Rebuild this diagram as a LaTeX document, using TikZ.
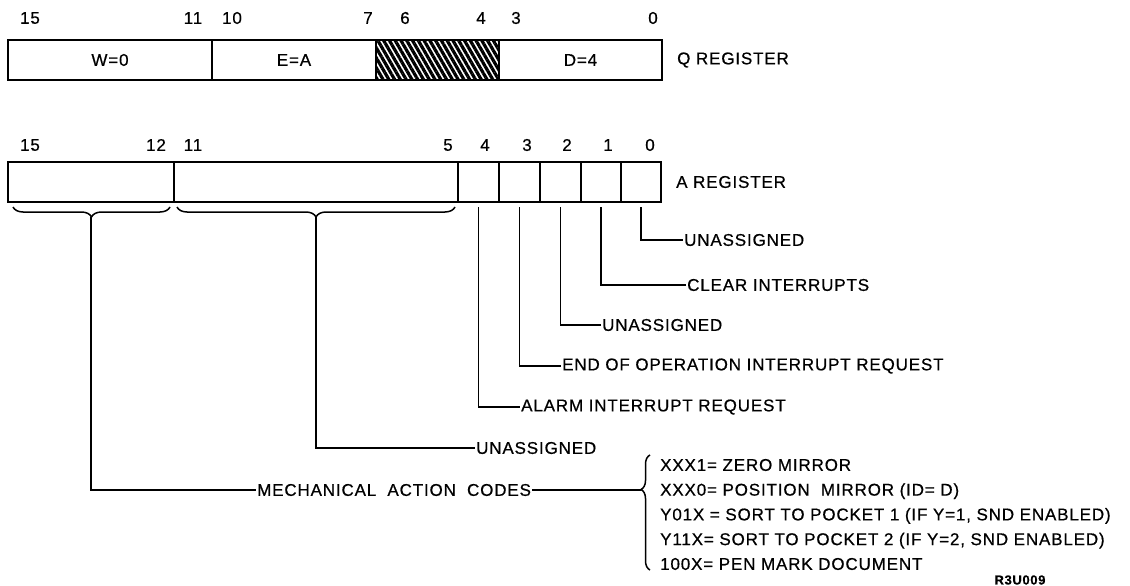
\documentclass[tikz,border=0pt]{standalone}
\usepackage{fontspec}
\setmainfont{Liberation Sans}[LetterSpace=5, FakeBold=0.6]
\usetikzlibrary{positioning, decorations.pathreplacing, patterns.meta}
\tikzset{
  field/.style={
    rectangle,
    draw=black,
    line width=2.2pt,
    outer sep=0pt,
    inner sep=0pt,
    minimum height=40pt
  },
  bitnum/.style={
    inner sep=0pt
  },
  tag/.style={
    anchor=west,
    inner sep=1pt
  },
  leader/.style={
    line width=1.5pt
  },
  regbrace/.style={
    decorate,
    decoration={brace, amplitude=10pt},
    line width=1.5pt
  }
}

\begin{document}
\begin{tikzpicture}[x=1pt, y=-1pt, font=\fontsize{17}{20}\selectfont]
\useasboundingbox (0,0) rectangle (1130,586);

% Q register
\node[field, minimum width=204pt] (qw) at (110,60) {W=0};
\node[field, minimum width=164pt, right=0pt of qw] (qe) {E=A};
\node[field, minimum width=123pt, right=0pt of qe,
  pattern={Lines[angle=-60, distance=5pt, line width=3.2pt]}] (qx) {};
\node[field, minimum width=163pt, right=0pt of qx] (qd) {D=4};
\node[tag, right=14pt of qd] (qname) {Q REGISTER};

\node[bitnum] (q15) at (30,18) {15};
\node[bitnum] (q11) at (193,18) {11};
\node[bitnum] (q10) at (232,18) {10};
\node[bitnum] (q7) at (368,18) {7};
\node[bitnum] (q6) at (405,18) {6};
\node[bitnum] (q4) at (481,18) {4};
\node[bitnum] (q3) at (516,18) {3};
\node[bitnum] (q0) at (653,18) {0};

% A register
\node[field, minimum width=166pt] (ahi) at (91,182) {};
\node[field, minimum width=284pt, right=0pt of ahi] (amid) {};
\node[field, minimum width=41pt, right=0pt of amid] (a4) {};
\node[field, minimum width=41pt, right=0pt of a4] (a3) {};
\node[field, minimum width=41pt, right=0pt of a3] (a2) {};
\node[field, minimum width=40pt, right=0pt of a2] (a1) {};
\node[field, minimum width=40pt, right=0pt of a1] (a0) {};
\node[tag, right=14pt of a0] (aname) {A REGISTER};

\node[bitnum] (b15) at (30,145) {15};
\node[bitnum] (b12) at (156,145) {12};
\node[bitnum] (b11) at (193,145) {11};
\node[bitnum] (b5) at (448,145) {5};
\node[bitnum] (b4) at (485,145) {4};
\node[bitnum] (b3) at (527,145) {3};
\node[bitnum] (b2) at (567,145) {2};
\node[bitnum] (b1) at (608,145) {1};
\node[bitnum] (b0) at (650,145) {0};

% Bit descriptions
\node[tag] (u0) at (683,240) {UNASSIGNED};
\node[tag] (clr) at (686,285) {CLEAR INTERRUPTS};
\node[tag] (u2) at (601,325) {UNASSIGNED};
\node[tag] (eop) at (561,366) {END OF OPERATION INTERRUPT REQUEST};
\node[tag] (alarm) at (520,407) {ALARM INTERRUPT REQUEST};
\node[tag] (u11) at (475,448) {UNASSIGNED};
\node[tag] (mech) at (256,490) {MECHANICAL\ \ ACTION\ \ CODES};

\draw[leader] ([yshift=-5pt]a0.south) |- (u0.west);
\draw[leader] ([yshift=-5pt]a1.south) |- (clr.west);
\draw[leader] ([yshift=-5pt]a2.south) |- (u2.west);
\draw[leader] ([yshift=-5pt]a3.south) |- (eop.west);
\draw[leader] ([yshift=-5pt]a4.south) |- (alarm.west);

% Field braces
\draw[regbrace] ([xshift=-4pt,yshift=-5pt]ahi.south east) -- ([xshift=5pt,yshift=-5pt]ahi.south west);
\draw[regbrace] ([xshift=-3pt,yshift=-5pt]amid.south east) -- ([xshift=3pt,yshift=-5pt]amid.south west);
\coordinate (hitip) at ([yshift=-15pt]ahi.south);
\coordinate (midtip) at ([yshift=-15pt]amid.south);
\draw[leader] (hitip) |- (mech.west);
\draw[leader] (midtip) |- (u11.west);

% Mechanical action codes
\coordinate (lbtop) at (650,455);
\coordinate (lbbot) at (650,570);
\coordinate (lbtip) at (641,490);
\draw[leader, decorate, decoration={brace, amplitude=9pt, aspect=0.7}] (lbbot) -- (lbtop);
\draw[leader] (mech.east) -- (lbtip);
\node[anchor=west, align=left, inner sep=0pt, font=\fontsize{17}{24.75}\selectfont] (codes) at (660,514.5) {
  XXX1= ZERO MIRROR \\
  XXX0= POSITION\ \ MIRROR (ID= D) \\
  Y01X = SORT TO POCKET 1 (IF Y=1, SND ENABLED) \\
  Y11X= SORT TO POCKET 2 (IF Y=2, SND ENABLED) \\
  100X= PEN MARK DOCUMENT
};

\node[font=\fontsize{13}{15}\selectfont\bfseries] (fig) at (1020,580) {R3U009};

\end{tikzpicture}
\end{document}
